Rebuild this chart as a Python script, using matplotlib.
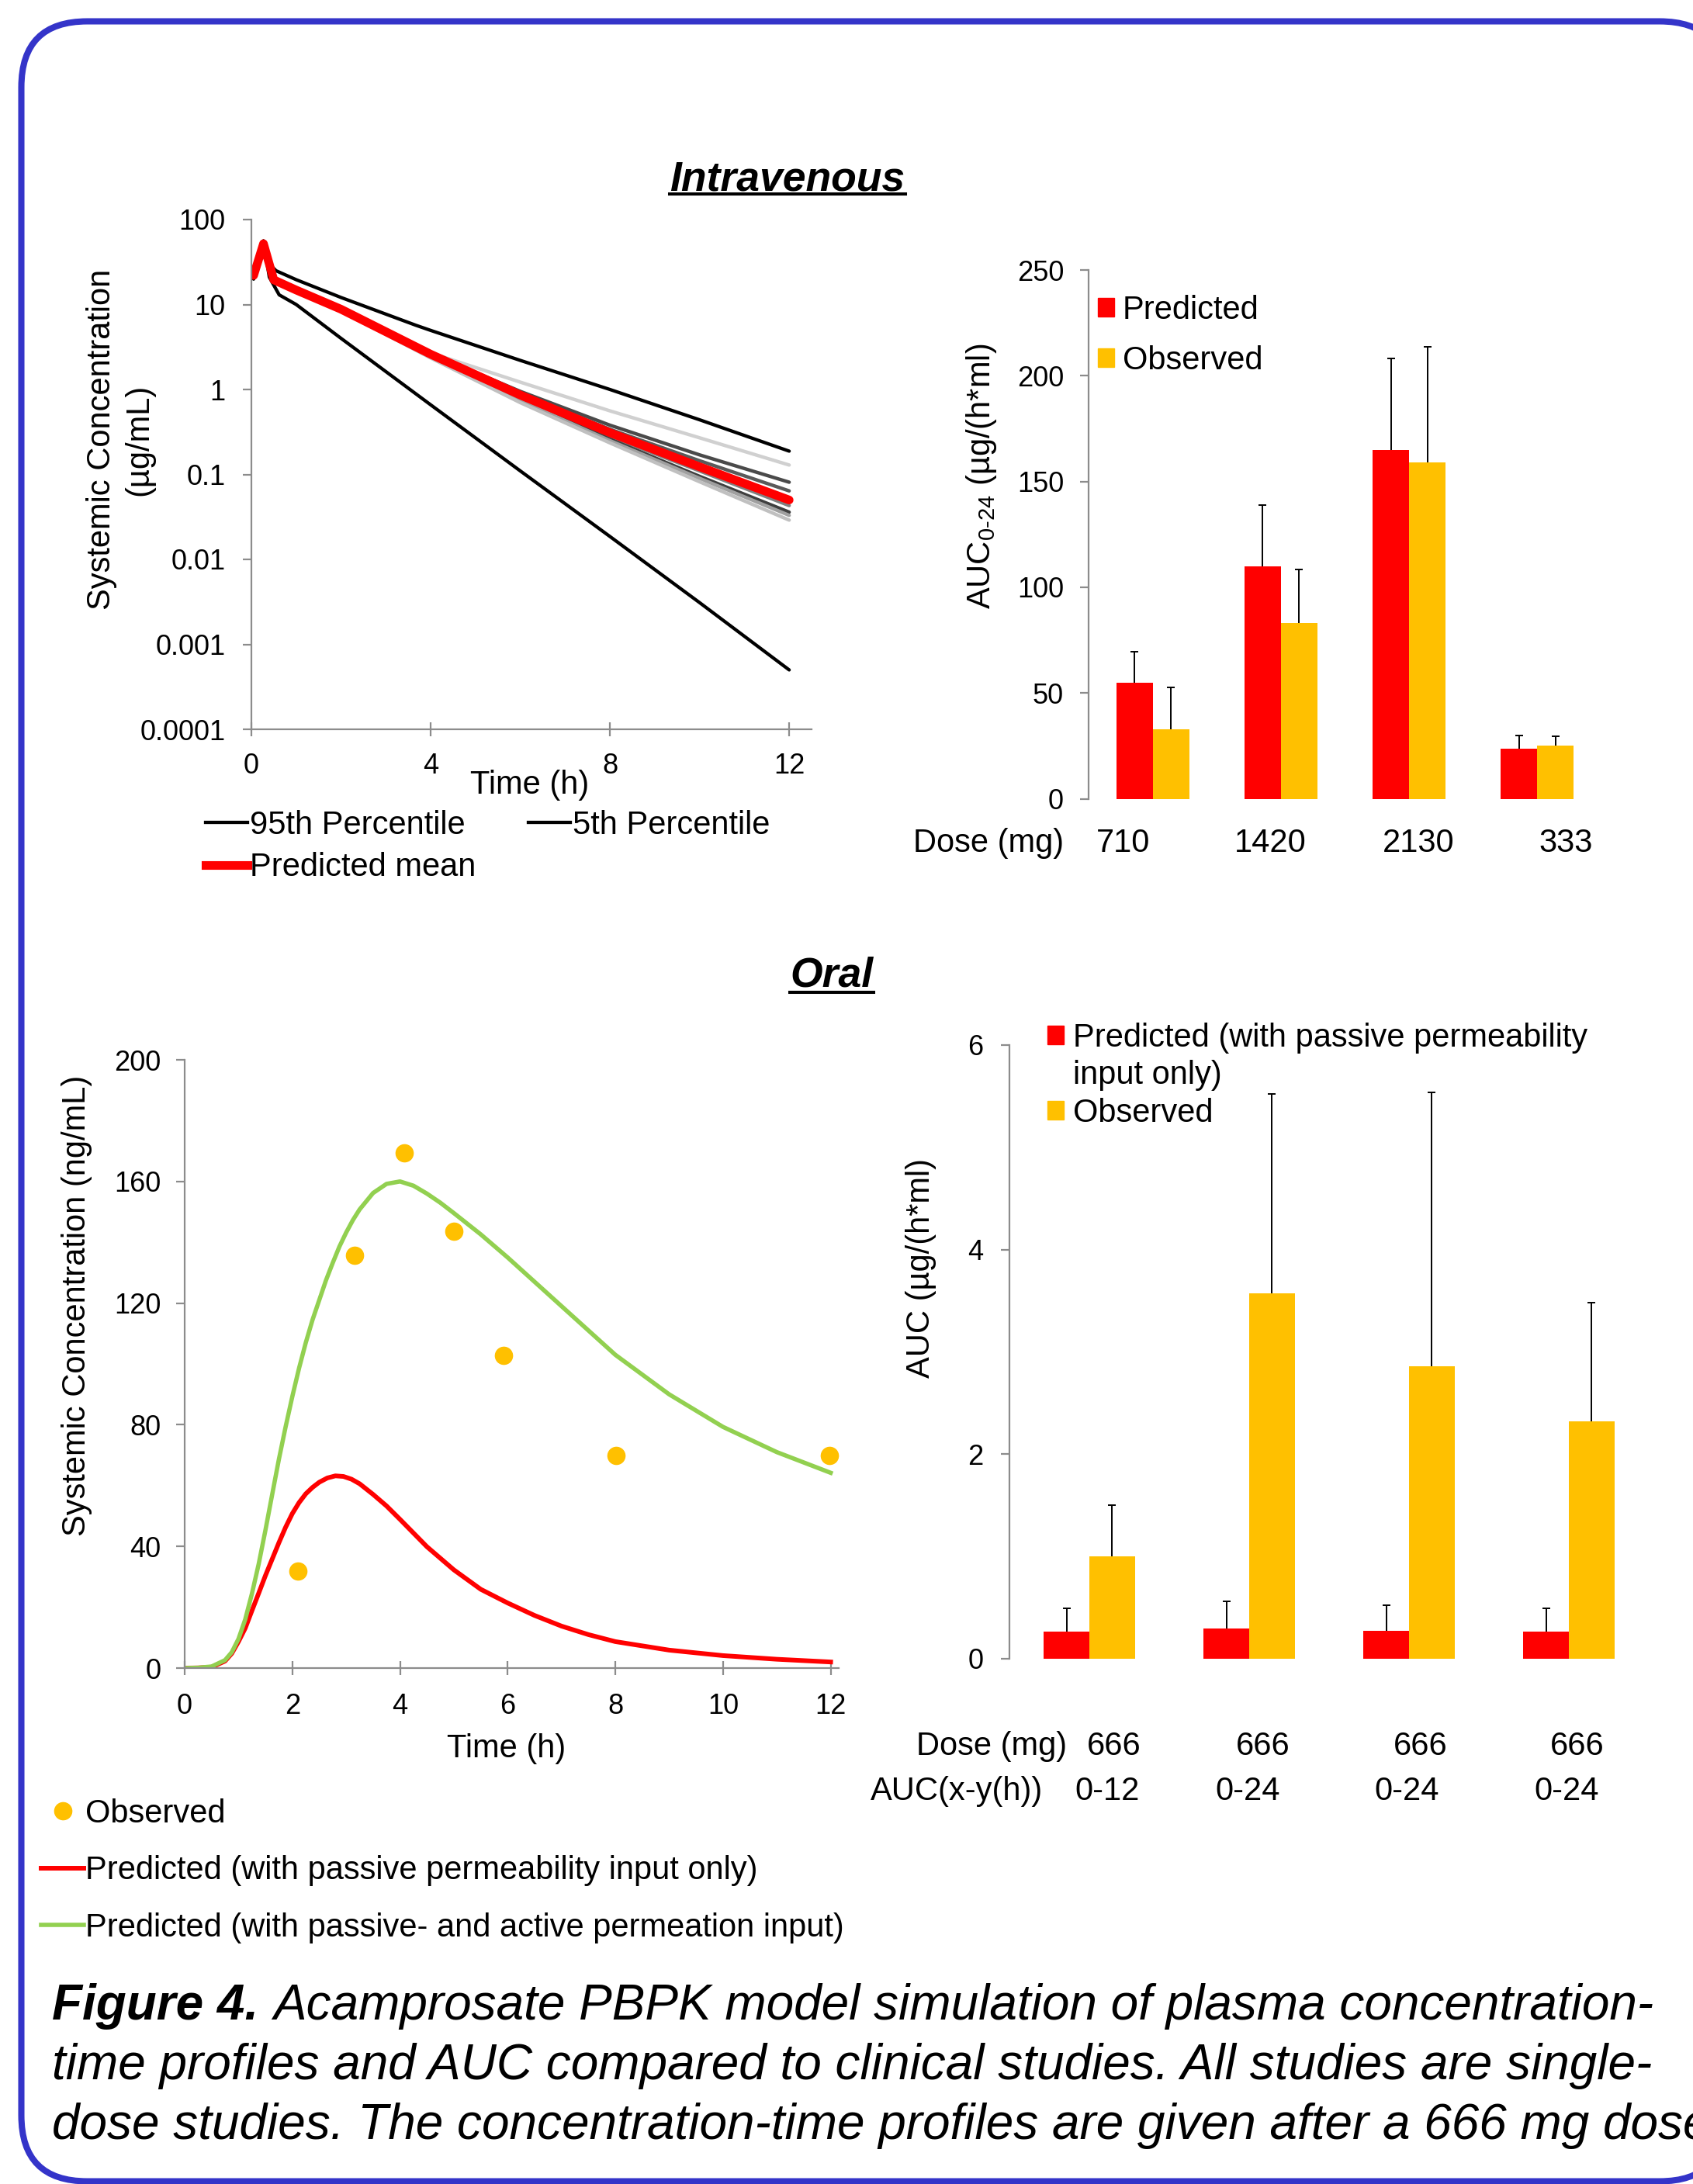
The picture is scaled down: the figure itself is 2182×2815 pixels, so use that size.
import matplotlib
matplotlib.use('Agg')
import matplotlib.pyplot as plt
import matplotlib.transforms as mtransforms
from matplotlib.lines import Line2D
from matplotlib.patches import Patch, FancyBboxPatch
import numpy as np

plt.rcParams['font.family'] = ['Liberation Sans', 'DejaVu Sans']
plt.rcParams['mathtext.fontset'] = 'custom'
plt.rcParams['mathtext.rm'] = 'Liberation Sans'
plt.rcParams['mathtext.it'] = 'Liberation Sans:italic'
plt.rcParams['mathtext.bf'] = 'Liberation Sans:bold'

# ---------------- data ----------------
# IV concentration-time (ug/mL)
iv_time_p95 = [0.0, 0.05, 0.27, 0.4, 0.55, 1, 2, 3.67, 4, 6, 8, 10, 12]
iv_conc_p95 = [21, 20, 56, 30, 25.0, 19.6, 12.1, 5.7, 4.96, 2.2, 1.0, 0.44, 0.188]
iv_time_p5 = [0.0, 0.05, 0.27, 0.4, 0.62, 1, 2, 4, 6, 8, 10, 12]
iv_conc_p5 = [21, 20, 56, 21, 13, 10, 4.0, 0.66, 0.11, 0.0186, 0.0031, 0.0005]
iv_time_mean = [0.0, 0.05, 0.27, 0.5, 1, 2, 4, 6, 8, 10, 12]
iv_conc_mean = [24, 22, 52, 19.5, 14.8, 8.8, 2.6, 0.86, 0.31, 0.123, 0.050]
iv_time_trials = [0.0, 0.05, 0.27, 0.5, 1, 2, 4, 6, 8, 10, 12]
iv_trial_a = [24, 22, 52, 19.5, 14.8, 8.9, 2.7, 1.22, 0.56, 0.27, 0.129]
iv_trial_b = [24, 22, 52, 19.5, 14.8, 8.8, 2.65, 0.95, 0.38, 0.17, 0.081]
iv_trial_c = [24, 22, 52, 19.5, 14.8, 8.8, 2.6, 0.90, 0.34, 0.145, 0.064]
iv_trial_d = [24, 22, 52, 19.5, 14.7, 8.7, 2.5, 0.80, 0.28, 0.11, 0.043]
iv_trial_e = [24, 22, 52, 19.5, 14.6, 8.6, 2.45, 0.76, 0.26, 0.095, 0.036]
iv_trial_f = [24, 22, 52, 19.5, 14.6, 8.5, 2.4, 0.74, 0.25, 0.09, 0.033]
iv_trial_g = [24, 22, 52, 19.5, 14.5, 8.4, 2.35, 0.70, 0.235, 0.082, 0.029]
iv_yticks = [1e-4, 1e-3, 1e-2, 1e-1, 1, 10, 100]
iv_ytick_labels = ['0.0001', '0.001', '0.01', '0.1', '1', '10', '100']
iv_xticks = [0, 4, 8, 12]

# IV AUC bars
iv_doses = ['710', '1420', '2130', '333']
iv_auc_pred = [55, 110, 165, 23.5]
iv_auc_pred_sd = [14.5, 29, 43, 6.5]
iv_auc_obs = [33, 83, 159, 25]
iv_auc_obs_sd = [19.5, 25.5, 54.5, 4.4]

# Oral concentration-time (ng/mL)
oral_time_active = [0, 0.25, 0.5, 0.75, 0.875, 1, 1.125, 1.25, 1.375, 1.5, 1.625, 1.75,
                    1.875, 2, 2.125, 2.25, 2.375, 2.5, 2.625, 2.75, 2.875, 3, 3.125,
                    3.25, 3.5, 3.75, 4, 4.25, 4.5, 4.75, 5, 5.5, 6, 6.5, 7, 7.5, 8,
                    9, 10, 11, 12]
oral_active = [0, 0.1, 0.5, 2.6, 5.2, 9.6, 16, 24.5, 34.2, 45.3, 57, 68.6,
               79.3, 89.3, 98.6, 107, 114.5, 121, 127.5, 133.2, 138.6, 143.2, 147.3,
               150.8, 156.2, 159.2, 160, 158.6, 156, 153, 149.6, 142.6, 135, 127, 119, 111, 103,
               90, 79.3, 71, 64.2]
oral_time_passive = [0, 0.25, 0.5, 0.75, 0.875, 1, 1.125, 1.25, 1.375, 1.5, 1.625, 1.75,
                     1.875, 2, 2.125, 2.25, 2.375, 2.5, 2.65, 2.8, 2.95, 3.1, 3.25,
                     3.5, 3.75, 4, 4.5, 5, 5.5, 6, 6.5, 7, 7.5, 8, 9, 10, 11, 12]
oral_passive = [0, 0.05, 0.3, 2.3, 4.8, 8.7, 13.1, 18.9, 24.6, 30.4, 35.8, 41.2,
                46.3, 50.8, 54.4, 57.3, 59.4, 61.1, 62.5, 63.2, 63.0, 62.1, 60.6,
                57.1, 53.3, 48.9, 39.9, 32.3, 25.9, 21.4, 17.3, 13.8, 11.0, 8.7, 5.9, 4.1, 2.9, 2.0]
oral_obs_time = [2.10, 3.16, 4.08, 5.0, 5.92, 8.02, 11.98]
oral_obs_conc = [32.0, 135.6, 169.5, 143.5, 102.9, 69.8, 69.8]

# Oral AUC bars
oral_doses = ['666', '666', '666', '666']
oral_intervals = ['0-12', '0-24', '0-24', '0-24']
oral_auc_pred = [0.26, 0.29, 0.27, 0.26]
oral_auc_pred_sd = [0.23, 0.27, 0.25, 0.23]
oral_auc_obs = [1.0, 3.57, 2.86, 2.32]
oral_auc_obs_sd = [0.5, 1.95, 2.68, 1.16]

# ---------------- layout / style ----------------
W, H, DPI = 2182, 2815, 100
RED = '#FF0000'
GOLD = '#FFC000'
GREEN = '#92D050'
SPINE = '#8C8C8C'
BORDER = '#3434C9'
TICK_FS = 26
LAB_FS = 30

fig = plt.figure(figsize=(W / DPI, H / DPI), dpi=DPI)
PX = mtransforms.Affine2D().scale(1.0 / W, 1.0 / H) + fig.transFigure


def px_axes(l, t, r, b):
    return fig.add_axes([l / W, 1 - b / H, (r - l) / W, (b - t) / H])


def style(ax, ypad, bottom=True, xpad=12):
    for s in ['top', 'right']:
        ax.spines[s].set_visible(False)
    ax.spines['left'].set_color(SPINE)
    ax.spines['left'].set_linewidth(1.6)
    if bottom:
        ax.spines['bottom'].set_color(SPINE)
        ax.spines['bottom'].set_linewidth(1.6)
        ax.tick_params(axis='x', direction='inout', length=13.5, width=1.6,
                       color=SPINE, labelsize=TICK_FS, pad=xpad)
    else:
        ax.spines['bottom'].set_visible(False)
        ax.tick_params(axis='x', bottom=False, labelbottom=False)
    ax.tick_params(axis='y', direction='out', length=8, width=1.6,
                   color=SPINE, labelsize=TICK_FS, pad=ypad)
    ax.patch.set_alpha(0)


# border (pixel coordinates measured from bottom-left); white face keeps the
# stroke from being clipped oddly at the canvas edge
fig.add_artist(FancyBboxPatch((27.5, 3.5), 2224 - 27.5, 2787.5 - 3.5,
                              boxstyle='round,pad=0,rounding_size=85',
                              transform=PX, facecolor='white', ec=BORDER, lw=5.8,
                              zorder=-5))

# ---------- IV concentration plot ----------
ax1 = px_axes(324, 283, 1046, 940)
trials = [iv_trial_a, iv_trial_b, iv_trial_c, iv_trial_d, iv_trial_e, iv_trial_f, iv_trial_g]
trial_colors = ['#D0D0D0', '#4A4A4A', '#5A5A5A', '#808080', '#3F3F3F', '#A0A0A0', '#C0C0C0']
for tr, col in zip(trials, trial_colors):
    ax1.plot(iv_time_trials, tr, color=col, lw=3.2, solid_capstyle='round')
ax1.plot(iv_time_p95, iv_conc_p95, color='black', lw=3.1, solid_capstyle='round')
ax1.plot(iv_time_p5, iv_conc_p5, color='black', lw=3.1, solid_capstyle='round')
ax1.plot(iv_time_mean, iv_conc_mean, color=RED, lw=8, solid_capstyle='round')
ax1.set_yscale('log')
ax1.set_ylim(1e-4, 100)
ax1.set_xlim(0, 12.5)
ax1.set_yticks(iv_yticks)
ax1.set_yticklabels(iv_ytick_labels)
ax1.minorticks_off()
ax1.set_xticks(iv_xticks)
ax1.set_xticklabels([str(v) for v in iv_xticks])
style(ax1, ypad=16, xpad=15)
ax1.set_ylabel('Systemic Concentration\n(µg/mL)', fontsize=LAB_FS, va='center',
               ha='center', linespacing=1.25)
ax1.yaxis.set_label_coords(-0.234, 0.568)
ax1.set_xlabel('Time (h)', fontsize=LAB_FS, va='center')
ax1.xaxis.set_label_coords(0.497, -0.1095)

iv_handles = [Line2D([], [], color='black', lw=3.1),
              Line2D([], [], color=RED, lw=8),
              Line2D([], [], color='black', lw=3.1)]
fig.legend(iv_handles, ['95th Percentile', 'Predicted mean', '5th Percentile'],
           ncol=2, loc='upper left', bbox_to_anchor=(265 / W, 1 - 1044 / H),
           frameon=False, fontsize=LAB_FS, handlelength=1.3, handletextpad=0.08,
           columnspacing=1.6, labelspacing=0.34, borderpad=0, borderaxespad=0)

# ---------- IV AUC bars ----------
ax2 = px_axes(1403, 348, 2064, 1029.5)
x = np.arange(len(iv_doses)) + 0.5
bw = 0.285
ax2.bar(x - bw / 2, iv_auc_pred, bw, color=RED, zorder=2)
ax2.bar(x + bw / 2, iv_auc_obs, bw, color=GOLD, zorder=2)
for xs, vals, sds in [(x - bw / 2, iv_auc_pred, iv_auc_pred_sd),
                      (x + bw / 2, iv_auc_obs, iv_auc_obs_sd)]:
    eb = ax2.errorbar(xs, vals, yerr=[np.zeros(len(vals)), sds], fmt='none',
                      ecolor='black', elinewidth=1.4, capsize=3.5, capthick=1.4, zorder=3)
    eb.lines[1][0].set_visible(False)
ax2.set_xlim(0, 4)
ax2.set_ylim(0, 250)
ax2.set_yticks(np.arange(0, 251, 50))
style(ax2, ypad=15, bottom=False)
ax2.set_ylabel(r'AUC$_{\text{0-24}}$ (µg/(h*ml)', fontsize=LAB_FS, va='center', ha='center')
ax2.yaxis.set_label_coords(-0.209, 0.61)
tr2 = mtransforms.blended_transform_factory(ax2.transData, ax2.transAxes)
IV_LABEL_X = [0.27, 1.42, 2.57, 3.72]
IV_ROW_Y = -0.0843
ax2.text(-0.048, IV_ROW_Y, 'Dose (mg)', transform=ax2.transAxes, ha='right',
         va='center', fontsize=LAB_FS)
for lx, lab in zip(IV_LABEL_X, iv_doses):
    ax2.text(lx, IV_ROW_Y, lab, transform=tr2, ha='center', va='center', fontsize=LAB_FS)
fig.legend([Patch(color=RED), Patch(color=GOLD)], ['Predicted', 'Observed'],
           loc='upper left', bbox_to_anchor=(1415 / W, 1 - 380 / H), frameon=False,
           fontsize=LAB_FS, handlelength=0.5, handleheight=0.5, handletextpad=0.27,
           labelspacing=0.6, borderpad=0, borderaxespad=0)

# ---------- Oral concentration plot ----------
ax3 = px_axes(238, 1366, 1081, 2150)
ax3.plot(oral_time_passive, oral_passive, color=RED, lw=4.3)
ax3.plot(oral_time_active, oral_active, color=GREEN, lw=4)
ax3.plot(oral_obs_time, oral_obs_conc, ls='none', marker='o', ms=16, color=GOLD,
         mec=GOLD, clip_on=False)
ax3.set_xlim(0, 12.15)
ax3.set_ylim(0, 200)
ax3.set_xticks(np.arange(0, 13, 2))
ax3.set_yticks(np.arange(0, 201, 40))
style(ax3, ypad=14, xpad=16)
ax3.set_ylabel('Systemic Concentration (ng/mL)', fontsize=LAB_FS, va='center', ha='center')
ax3.yaxis.set_label_coords(-0.165, 0.596)
ax3.set_xlabel('Time (h)', fontsize=LAB_FS, va='center')
ax3.xaxis.set_label_coords(0.492, -0.1327)
oral_handles = [Line2D([], [], ls='none', marker='o', ms=16, color=GOLD),
                Line2D([], [], color=RED, lw=4.3),
                Line2D([], [], color=GREEN, lw=4)]
fig.legend(oral_handles, ['Observed', 'Predicted (with passive permeability input only)',
                          'Predicted (with passive- and active permeation input)'],
           loc='upper left', bbox_to_anchor=(53 / W, 1 - 2318 / H), frameon=False,
           fontsize=LAB_FS, handlelength=1.33, handletextpad=0.05, labelspacing=0.8,
           borderpad=0, borderaxespad=0)

# ---------- Oral AUC bars ----------
ax4 = px_axes(1301, 1347, 2125, 2137.5)
x4 = np.arange(len(oral_doses)) + 0.5
ax4.bar(x4 - bw / 2, oral_auc_pred, bw, color=RED, zorder=2)
ax4.bar(x4 + bw / 2, oral_auc_obs, bw, color=GOLD, zorder=2)
for xs, vals, sds in [(x4 - bw / 2, oral_auc_pred, oral_auc_pred_sd),
                      (x4 + bw / 2, oral_auc_obs, oral_auc_obs_sd)]:
    eb = ax4.errorbar(xs, vals, yerr=[np.zeros(len(vals)), sds], fmt='none',
                      ecolor='black', elinewidth=1.4, capsize=3.5, capthick=1.4, zorder=3)
    eb.lines[1][0].set_visible(False)
ax4.set_xlim(0, 4)
ax4.set_ylim(0, 6)
ax4.set_yticks([0, 2, 4, 6])
style(ax4, ypad=16, bottom=False)
ax4.set_ylabel('AUC (µg/(h*ml)', fontsize=LAB_FS, va='center', ha='center')
ax4.yaxis.set_label_coords(-0.138, 0.636)
tr4 = mtransforms.blended_transform_factory(ax4.transData, ax4.transAxes)
ORAL_DOSE_X = [0.655, 1.587, 2.573, 3.553]
ORAL_INT_X = [0.612, 1.49, 2.485, 3.485]
ORAL_ROW1_Y = -0.1436
ORAL_ROW2_Y = -0.2170
ax4.text(0.359, ORAL_ROW1_Y, 'Dose (mg)', transform=tr4, ha='right', va='center',
         fontsize=LAB_FS)
ax4.text(0.209, ORAL_ROW2_Y, 'AUC(x-y(h))', transform=tr4, ha='right', va='center',
         fontsize=LAB_FS)
for lx, lab in zip(ORAL_DOSE_X, oral_doses):
    ax4.text(lx, ORAL_ROW1_Y, lab, transform=tr4, ha='center', va='center', fontsize=LAB_FS)
for lx, lab in zip(ORAL_INT_X, oral_intervals):
    ax4.text(lx, ORAL_ROW2_Y, lab, transform=tr4, ha='center', va='center', fontsize=LAB_FS)
fig.legend([Patch(color=RED), Patch(facecolor='none', edgecolor='none'), Patch(color=GOLD)],
           ['Predicted (with passive permeability', 'input only)', 'Observed'],
           loc='upper left', bbox_to_anchor=(1350 / W, 1 - 1318 / H), frameon=False,
           fontsize=LAB_FS, handlelength=0.5, handleheight=0.5, handletextpad=0.29,
           labelspacing=0.2, borderpad=0, borderaxespad=0)

# ---------- titles / caption ----------
t_iv = fig.text(1015 / W, 1 - 245 / H, 'Intravenous', ha='center', va='baseline',
                fontsize=38.5, fontweight='bold', fontstyle='italic')
t_or = fig.text(1072 / W, 1 - 1272 / H, 'Oral', ha='center', va='baseline',
                fontsize=38.5, fontweight='bold', fontstyle='italic')
CAP_FS = 46
cap1a = fig.text(67 / W, 1 - 2603 / H, 'Figure 4.', ha='left', va='baseline',
                 fontsize=CAP_FS, fontweight='bold', fontstyle='italic')
fig.text(67 / W, 1 - 2680 / H,
         'time profiles and AUC compared to clinical studies. All studies are single-',
         ha='left', va='baseline', fontsize=CAP_FS, fontstyle='italic')
fig.text(67 / W, 1 - 2757 / H,
         'dose studies. The concentration-time profiles are given after a 666 mg dose',
         ha='left', va='baseline', fontsize=CAP_FS, fontstyle='italic')

fig.canvas.draw()
r = fig.canvas.get_renderer()
bb = cap1a.get_window_extent(r)
fig.text((bb.x1 + 19) / W, 1 - 2603 / H,
         'Acamprosate PBPK model simulation of plasma concentration-',
         ha='left', va='baseline', fontsize=CAP_FS, fontstyle='italic')
for t, uy in [(t_iv, 250), (t_or, 1279)]:
    b = t.get_window_extent(r)
    fig.add_artist(Line2D([b.x0 / W, b.x1 / W], [1 - uy / H, 1 - uy / H],
                          color='black', lw=2.9, transform=fig.transFigure))

fig.savefig('out.png', dpi=DPI)
